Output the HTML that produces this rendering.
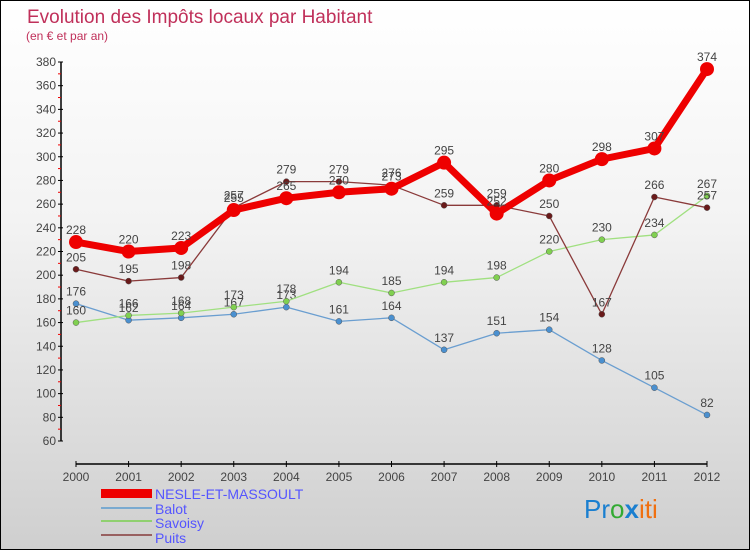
<!DOCTYPE html>
<html><head><meta charset="utf-8"><style>
body{margin:0}
#c{position:relative;width:748px;height:548px;border:1px solid #000;background:linear-gradient(#fff,#f3f3f3 40%,#cfcfcf);font-family:"Liberation Sans",sans-serif;overflow:hidden}
</style></head><body>
<div id="c">
<svg width="748" height="548" id="s">
<text x="26" y="22" font-size="19" fill="#c0305a">Evolution des Impôts locaux par Habitant</text>
<text x="25" y="39" font-size="12" fill="#c0305a">(en € et par an)</text>
<g id="axes"></g><g id="series"></g>
<g>
<rect x="100" y="488" width="51" height="9" fill="#e00"/>
<text x="154" y="498" font-size="14" fill="#55f">NESLE-ET-MASSOULT</text>
<rect x="100" y="506" width="51" height="2" fill="#7aaad0"/>
<text x="154" y="513" font-size="14" fill="#55f">Balot</text>
<rect x="100" y="519" width="51" height="2" fill="#90d070"/>
<text x="154" y="527" font-size="14" fill="#55f">Savoisy</text>
<rect x="100" y="533" width="51" height="2" fill="#986060"/>
<text x="154" y="542" font-size="14" fill="#55f">Puits</text>
</g>
<text x="583" y="517" font-size="26"><tspan fill="#1a7fd0">Pr</tspan><tspan fill="#3a3">o</tspan><tspan fill="#1a7fd0" font-weight="bold">x</tspan><tspan fill="#f07010">iti</tspan></text>
</svg></div>
<script>
const years=[2000,2001,2002,2003,2004,2005,2006,2007,2008,2009,2010,2011,2012];
const nesle=[228,220,223,255,265,270,273,295,252,280,298,307,374];
const balot=[176,162,164,167,173,161,164,137,151,154,128,105,82];
const savoisy=[160,166,168,173,178,194,185,194,198,220,230,234,267];
const puits=[205,195,198,257,279,279,276,259,259,250,167,266,257];
const yTicks=[60,80,100,120,140,160,180,200,220,240,260,280,300,320,340,360,380];
const NS="http://www.w3.org/2000/svg";
const X=i=>75+i*(706-75)/12;
const Y=v=>440-(v-60)*(440-61)/320;
function mk(t,a,p){const e=document.createElementNS(NS,t);for(const k in a)e.setAttribute(k,a[k]);p.appendChild(e);return e;}
const ax=document.getElementById('axes');
mk('line',{x1:60,y1:61,x2:60,y2:440,stroke:'#000','stroke-width':1.5},ax);
mk('line',{x1:75,y1:463,x2:706,y2:463,stroke:'#000','stroke-width':1.5},ax);
yTicks.forEach(v=>{mk('line',{x1:57,y1:Y(v),x2:62,y2:Y(v),stroke:'#000'},ax);
 if(v<380)mk('line',{x1:57,y1:Y(v+10),x2:60,y2:Y(v+10),stroke:'#e00'},ax);
 const t=mk('text',{x:55,y:Y(v)+4,'font-size':12,fill:'#444','text-anchor':'end'},ax);
 
 
 t.textContent=v;});
years.forEach((y,i)=>{mk('line',{x1:X(i),y1:460,x2:X(i),y2:466,stroke:'#000'},ax);
 const t=mk('text',{x:X(i),y:480,'font-size':12,fill:'#444','text-anchor':'middle'},ax);
 
 
 t.textContent=y;});
const sg=document.getElementById('series');
function draw(d,col,w,r,dot,name){
 const g=mk('g',{},sg);
 
 
 mk('polyline',{points:d.map((v,i)=>X(i)+','+Y(v)).join(' '),fill:'none',stroke:col,'stroke-width':w,'stroke-linejoin':'round'},g);
 d.forEach((v,i)=>{const c=mk('circle',{cx:X(i),cy:Y(v),r:r,fill:dot,stroke:w>3?'none':'#555','stroke-width':0.5},g);
  
  
  const t=mk('text',{x:X(i),y:Y(v)-8,'font-size':12,fill:'#444','text-anchor':'middle'},g);
  
  
  t.textContent=v;});
}
draw(balot,'#6a9ed0',1.3,3,'#4a90d0','balot-series');
draw(savoisy,'#a0e080',1.3,3,'#80d050','savoisy-series');
draw(puits,'#8a3a3a',1.3,3,'#6a1a1a','puits-series');
draw(nesle,'#ee0000',7,7,'#ee0000','nesle-series');
</script>
</body></html>
